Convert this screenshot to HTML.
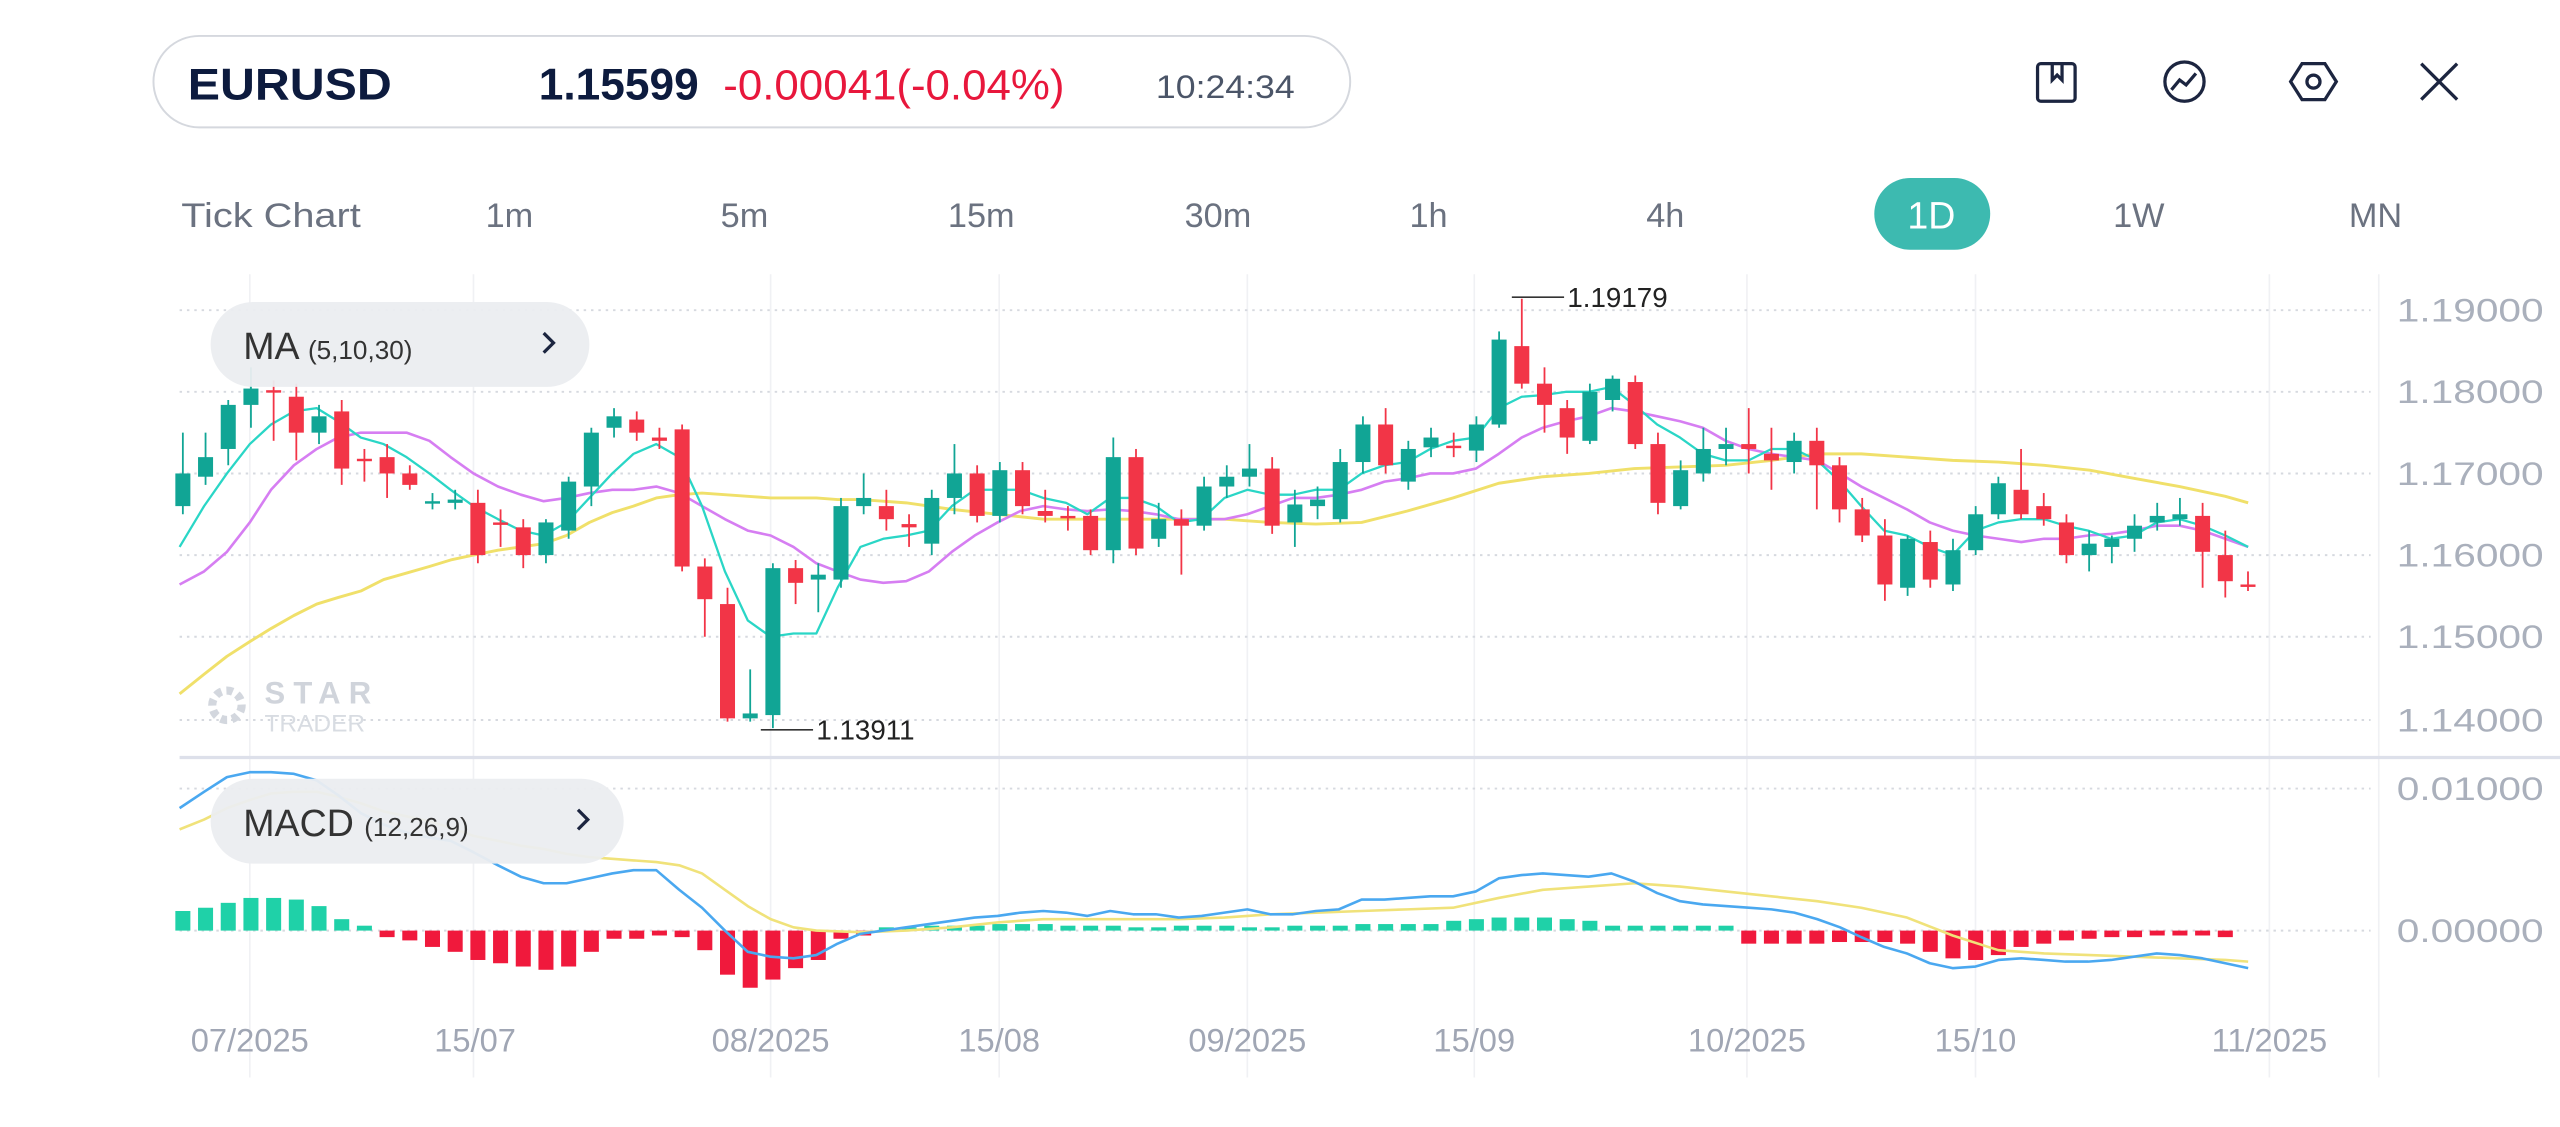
<!DOCTYPE html>
<html><head><meta charset="utf-8"><style>
html,body{margin:0;padding:0;background:#fff;width:2560px;height:1127px;overflow:hidden}
svg{display:block}
text{font-family:"Liberation Sans",sans-serif}
</style></head><body>
<svg id="s" width="2560" height="1127" viewBox="0 0 1568 690.3" preserveAspectRatio="none" xmlns="http://www.w3.org/2000/svg">
<rect x="94" y="22" width="733" height="56" rx="28" fill="#fff" stroke="#d5d8de" stroke-width="1.2"/>
<text x="115" y="61" font-size="27" font-weight="bold" fill="#0d1b3e" textLength="125" lengthAdjust="spacingAndGlyphs">EURUSD</text>
<text x="330" y="61" font-size="27" font-weight="bold" fill="#0d1b3e" textLength="98" lengthAdjust="spacingAndGlyphs">1.15599</text>
<text x="443" y="61" font-size="26" fill="#e8173c" textLength="209" lengthAdjust="spacingAndGlyphs">-0.00041(-0.04%)</text>
<text x="708" y="60" font-size="20" fill="#4b5568" textLength="85" lengthAdjust="spacingAndGlyphs">10:24:34</text>
<g fill="none" stroke="#1c2540" stroke-width="2">
<rect x="1248" y="39" width="23" height="23" rx="2"/><path d="M1257 39v10l3-3 3 3v-10"/>
<circle cx="1338" cy="50" r="12"/><path d="M1330 55l5-6 4 3 6-7"/>
<path d="M1410 39l14 0 7 11-7 11-14 0-7-11z"/><circle cx="1417" cy="50" r="4"/>
<path d="M1483 39l22 22M1505 39l-22 22"/>
</g>
<g font-size="21" fill="#6b7280" text-anchor="middle">
<text x="166" y="139" textLength="110" lengthAdjust="spacingAndGlyphs">Tick Chart</text><text x="312" y="139">1m</text><text x="456" y="139">5m</text>
<text x="601" y="139">15m</text><text x="746" y="139">30m</text><text x="875" y="139">1h</text>
<text x="1020" y="139">4h</text><text x="1310" y="139">1W</text><text x="1455" y="139">MN</text>
</g>
<rect x="1148" y="109" width="71" height="44" rx="22" fill="#3dbab0"/>
<text x="1183" y="140" font-size="23" fill="#fff" text-anchor="middle">1D</text>
<g id="grid"></g>
<g id="plot"></g>
<rect x="129" y="185" width="232" height="52" rx="26" fill="#ebedf0" opacity="0.95"/>
<text x="149" y="220" font-size="23" fill="#333">MA <tspan font-size="16">(5,10,30)</tspan></text>
<path d="M333 204l6 6-6 6" fill="none" stroke="#1c2540" stroke-width="2"/>
<rect x="129" y="477" width="253" height="52" rx="26" fill="#ebedf0" opacity="0.95"/>
<text x="149" y="512" font-size="23" fill="#333">MACD <tspan font-size="16">(12,26,9)</tspan></text>
<path d="M354 496l6 6-6 6" fill="none" stroke="#1c2540" stroke-width="2"/>
<g fill="#d3d7de"><circle cx="139" cy="432" r="9" fill="none" stroke="#d3d7de" stroke-width="5" stroke-dasharray="4 3"/></g>
<text x="162" y="431" font-size="19" font-weight="bold" fill="#d0d4db" letter-spacing="5">STAR</text>
<text x="162" y="448" font-size="15" fill="#d8dce2">TRADER</text>
<path d="M926 182h32M466 447h32" stroke="#333" stroke-width="1"/>
<text x="960" y="188" font-size="17" fill="#222">1.19179</text>
<text x="500" y="453" font-size="17" fill="#222">1.13911</text>
<g font-size="20" fill="#aab0bc">
<text x="1468" y="197" textLength="90" lengthAdjust="spacingAndGlyphs">1.19000</text><text x="1468" y="247" textLength="90" lengthAdjust="spacingAndGlyphs">1.18000</text><text x="1468" y="297" textLength="90" lengthAdjust="spacingAndGlyphs">1.17000</text>
<text x="1468" y="347" textLength="90" lengthAdjust="spacingAndGlyphs">1.16000</text><text x="1468" y="397" textLength="90" lengthAdjust="spacingAndGlyphs">1.15000</text><text x="1468" y="448" textLength="90" lengthAdjust="spacingAndGlyphs">1.14000</text>
<text x="1468" y="490" textLength="90" lengthAdjust="spacingAndGlyphs">0.01000</text><text x="1468" y="577" textLength="90" lengthAdjust="spacingAndGlyphs">0.00000</text>
</g>
<g font-size="20" fill="#a0a6b4" text-anchor="middle">
<text x="153" y="644">07/2025</text><text x="291" y="644">15/07</text><text x="472" y="644">08/2025</text>
<text x="612" y="644">15/08</text><text x="764" y="644">09/2025</text><text x="903" y="644">15/09</text>
<text x="1070" y="644">10/2025</text><text x="1210" y="644">15/10</text><text x="1390" y="644">11/2025</text>
</g>
</svg>
<script>
var NS="http://www.w3.org/2000/svg";
function el(p,t,a){var e=document.createElementNS(NS,t);for(var k in a)e.setAttribute(k,a[k]);p.appendChild(e);return e;}
var g=document.getElementById('grid'),P=document.getElementById('plot');
[153,290,472,612,764,903,1070,1210,1390,1457].forEach(function(x){el(g,'line',{x1:x,x2:x,y1:168,y2:660,stroke:'#f0f1f4','stroke-width':1});});
[190,240,290,340,390,441,483,570].forEach(function(y){el(g,'line',{x1:110,x2:1452,y1:y,y2:y,stroke:'#d6d9df','stroke-width':1.2,'stroke-dasharray':'1.5 3'});});
el(g,'line',{x1:110,x2:1568,y1:464,y2:464,stroke:'#dde0ea','stroke-width':2});
var C=[[310,290,265,315],[292,280,265,297],[275,248,245,285],[248,238,225,262],[239,240,233,270],[243,265,235,282],[265,255,248,272],[252,287,245,297],[281,282,275,295],[280,290,272,305],[290,297,285,300],[307,308,302,312],[306,308,300,312],[308,340,300,345],[320,321,312,335],[323,340,318,348],[340,320,318,345],[325,295,292,330],[298,265,262,310],[262,255,250,268],[257,265,252,270],[268,270,262,275],[263,347,260,350],[347,367,342,390],[370,440,360,442],[440,437,410,442],[438,348,345,446],[348,357,343,370],[355,352,345,375],[355,310,305,360],[310,305,290,315],[310,318,300,325],[321,323,315,335],[333,305,300,340],[305,290,272,315],[290,316,285,320],[316,288,283,320],[288,310,283,315],[313,316,300,320],[316,317,310,325],[316,337,312,340],[337,280,268,345],[280,336,275,340],[330,318,308,335],[318,322,312,352],[322,298,292,325],[298,292,285,305],[292,287,272,298],[287,322,280,327],[320,309,300,335],[310,306,298,318],[318,283,275,320],[283,260,255,290],[260,285,250,290],[295,275,270,300],[274,268,262,280],[273,274,265,280],[276,260,255,283],[260,208,203,262],[212,235,183,238],[235,248,225,265],[250,268,245,278],[270,240,235,272],[245,232,230,252],[234,272,230,275],[272,308,265,315],[310,288,282,312],[290,275,262,295],[275,272,262,285],[272,275,250,290],[278,282,262,300],[283,270,265,290],[270,285,262,312],[285,312,280,320],[312,328,305,332],[328,358,318,368],[360,330,328,365],[332,355,325,360],[358,337,330,362],[337,315,310,340],[315,296,292,318],[300,315,275,318],[310,318,302,322],[320,340,315,345],[340,333,325,350],[335,330,328,345],[330,322,315,338],[320,316,308,325],[318,315,305,322],[316,338,308,360],[340,356,325,366],[358,359,350,362]];
var GR='#11a595',RD='#f23547';
var H=[558,556,553,550,550,551,555,563,567,574,576,580,583,588,590,592,594,592,583,575,575,573,574,582,597,605,600,593,588,575,573];
var mid=[568,568,567,567,567,566,566,566,567,567,567,568,568,567,567,567,568,568,567,567,567,566,566,566,566];
H=H.concat(mid);H=H.concat([564,563,562,562,562,563,564]);for(var i=63;i<69;i++)H.push(567);
H=H.concat([578,578,578,578,577,577,577,578,583,587,588,585,580,578,576,575,574,574,573,573,573,574]);
function X(i){return 112+13.9*i;}
H.forEach(function(v,i){var x=X(i);el(P,'rect',{x:x-4.6,y:Math.min(v,570),width:9.2,height:Math.max(Math.abs(v-570),1),fill:v<570?'#1fd1a8':'#f0193c'});});
function line(pts,c,w){el(P,'polyline',{points:pts.map(function(p){return p[0]+','+p[1]}).join(' '),fill:'none',stroke:c,'stroke-width':w,'stroke-linejoin':'round'});}
line([[110,508],[125,502],[139,495],[153,490],[166,486],[180,485],[194,485],[207,488],[221,492],[235,497],[249,500],[263,503],[276,507],[290,512],[305,515],[319,518],[333,520],[347,523],[361,525],[375,526],[388,527],[402,528],[416,530],[430,535],[444,545],[458,555],[472,563],[486,568],[500,570],[527,571],[555,570],[583,568],[611,565],[639,563],[666,563],[694,563],[722,563],[750,562],[778,560],[806,559],[834,558],[862,557],[890,556],[918,550],[945,545],[973,543],[1001,541],[1029,543],[1057,546],[1085,549],[1113,552],[1140,556],[1168,562],[1196,573],[1224,582],[1252,584],[1280,585],[1307,586],[1335,587],[1363,588],[1377,589]],'#f0e27a',1.6);
line([[110,495],[125,485],[139,476],[153,473],[166,473],[180,474],[194,478],[207,487],[221,498],[235,505],[249,510],[263,513],[276,515],[290,522],[305,530],[319,537],[333,541],[347,541],[361,538],[375,535],[388,533],[402,533],[416,545],[430,556],[444,570],[458,583],[472,586],[486,587],[500,585],[513,578],[527,572],[541,570],[555,568],[569,566],[583,564],[597,562],[611,561],[625,559],[639,558],[653,559],[666,561],[680,558],[694,560],[708,560],[722,562],[736,561],[750,559],[764,557],[778,560],[792,560],[806,558],[820,557],[834,551],[848,551],[862,550],[876,549],[890,549],[904,546],[918,538],[932,536],[945,535],[959,536],[973,537],[987,535],[1001,540],[1015,547],[1029,552],[1043,554],[1057,555],[1071,556],[1085,557],[1099,559],[1113,563],[1127,568],[1140,574],[1154,580],[1168,584],[1182,590],[1196,593],[1210,592],[1224,588],[1238,587],[1252,588],[1265,589],[1279,589],[1293,588],[1307,586],[1321,584],[1335,585],[1349,587],[1363,590],[1377,593]],'#4aa8f0',1.6);
line([[110,425],[125,413],[139,402],[153,393],[166,385],[180,377],[194,370],[207,366],[221,362],[235,355],[249,351],[263,347],[276,343],[290,340],[305,337],[319,335],[333,333],[347,328],[361,320],[375,314],[388,310],[402,305],[416,303],[430,302],[444,303],[458,304],[472,305],[486,305],[500,305],[513,306],[527,306],[555,308],[583,312],[611,315],[639,318],[666,318],[694,318],[722,318],[750,318],[778,320],[806,321],[834,320],[862,313],[890,305],[918,296],[945,292],[973,290],[1001,287],[1029,286],[1057,285],[1085,282],[1113,278],[1140,278],[1168,280],[1196,282],[1224,283],[1252,285],[1280,288],[1307,293],[1335,298],[1363,304],[1377,308]],'#f0e06a',1.8);
line([[110,358],[125,350],[139,338],[153,320],[166,300],[180,285],[194,275],[207,268],[221,265],[235,265],[249,265],[263,270],[276,280],[290,290],[305,298],[319,303],[333,307],[347,305],[361,302],[375,300],[388,300],[402,298],[416,302],[430,310],[444,318],[458,325],[472,328],[486,335],[500,345],[513,350],[527,355],[541,357],[555,356],[569,350],[583,338],[597,328],[611,320],[625,313],[639,310],[653,312],[666,313],[680,312],[694,313],[708,315],[722,318],[736,318],[750,318],[764,315],[778,310],[792,305],[806,305],[820,303],[834,300],[848,295],[862,293],[876,290],[890,290],[904,287],[918,278],[932,268],[945,262],[959,258],[973,255],[987,250],[1001,252],[1015,255],[1029,258],[1043,262],[1057,270],[1071,275],[1085,278],[1099,280],[1113,282],[1127,290],[1140,298],[1154,305],[1168,312],[1182,320],[1196,325],[1210,328],[1224,330],[1238,332],[1252,330],[1265,330],[1279,328],[1293,327],[1307,325],[1321,322],[1335,322],[1349,325],[1363,330],[1377,335]],'#d67ef2',1.6);
line([[110,335],[125,310],[139,290],[153,272],[166,260],[180,252],[194,250],[207,258],[221,268],[235,272],[249,280],[263,290],[276,300],[290,310],[305,318],[319,325],[333,328],[347,320],[361,305],[375,290],[388,278],[402,272],[416,280],[430,310],[444,350],[458,380],[472,390],[486,388],[500,388],[513,360],[527,335],[541,330],[555,328],[569,325],[583,310],[597,300],[611,300],[625,300],[639,305],[653,308],[666,315],[680,305],[694,305],[708,310],[722,320],[736,318],[750,305],[764,300],[778,303],[792,303],[806,300],[820,300],[834,290],[848,285],[862,283],[876,275],[890,270],[904,268],[918,250],[932,243],[945,242],[959,240],[973,240],[987,237],[1001,248],[1015,260],[1029,268],[1043,278],[1057,282],[1071,282],[1085,275],[1099,275],[1113,282],[1127,295],[1140,310],[1154,325],[1168,328],[1182,335],[1196,340],[1210,325],[1224,320],[1238,318],[1252,318],[1265,322],[1279,325],[1293,330],[1307,328],[1321,320],[1335,318],[1349,322],[1363,328],[1377,335]],'#2ad6c6',1.4);
C.forEach(function(c,i){var x=X(i),col=c[1]<c[0]||(c[1]==c[0])?GR:RD;if(i==11||i==12||i==25||i==28)col=GR;
el(P,'line',{x1:x,x2:x,y1:c[2],y2:c[3],stroke:col,'stroke-width':1.1});
var t=Math.min(c[0],c[1]),h=Math.max(Math.abs(c[0]-c[1]),1.5);el(P,'rect',{x:x-4.6,y:t,width:9.2,height:h,fill:col});});
</script>
</body></html>
